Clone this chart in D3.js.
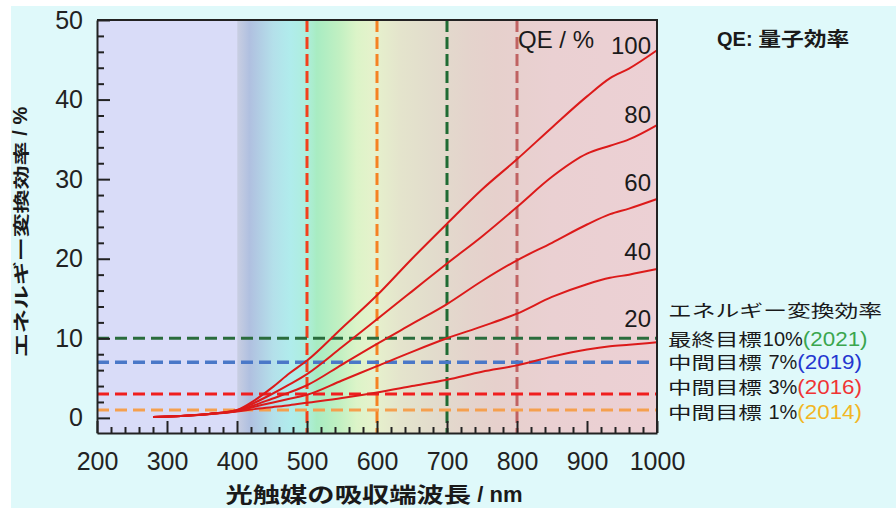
<!DOCTYPE html>
<html lang="ja">
<meta charset="utf-8">
<head>
    <script src='https://d3js.org/d3.v7.min.js'></script>
    <style>
        body { margin: 0; background: #fff; }
        svg { display: block; }
    </style>
</head>
<body>
</body>

<script>
    var width = 896, height = 508;
    var latinFont = '"Liberation Sans", Arial, sans-serif';
    var cjkFont = '"Noto Sans CJK JP", "Noto Sans", sans-serif';

    // data
    var wavelengths = [280, 320, 360, 400, 425, 450, 475, 500, 550, 600, 650, 700, 750, 800, 850, 900, 933, 960, 1000];
    var qe100 = [0.1, 0.25, 0.5, 1.0, 2.2, 3.8, 5.6, 7.2, 11.3, 15.4, 20.0, 24.4, 28.7, 32.5, 36.5, 40.4, 42.7, 43.9, 46.2];
    var qe80  = [0.1, 0.25, 0.5, 0.95, 1.9, 3.0, 4.2, 5.5, 8.9, 12.4, 15.9, 19.4, 22.8, 26.5, 30.3, 33.2, 34.2, 35.0, 36.8];
    var qe60  = [0.1, 0.25, 0.5, 0.9, 1.6, 2.4, 3.2, 4.1, 6.7, 9.3, 11.8, 14.3, 17.2, 19.8, 22.0, 24.3, 25.6, 26.3, 27.5];
    var qe40  = [0.1, 0.25, 0.5, 0.85, 1.4, 1.9, 2.4, 2.9, 4.7, 6.5, 8.3, 10.0, 11.5, 13.1, 15.2, 16.8, 17.6, 18.0, 18.7];
    var qe20  = [0.1, 0.25, 0.45, 0.8, 1.1, 1.35, 1.6, 1.9, 2.5, 3.2, 4.0, 4.8, 5.8, 6.6, 7.7, 8.6, 9.0, 9.2, 9.5];
    var qeSeries = [qe100, qe80, qe60, qe40, qe20];
    var qeLabels = ['100', '80', '60', '40', '20'];
    var qeLabelDy = [4, -2, -8, -9, -15];

    var vLines = [500, 600, 700, 800];
    var vColors = ['#f2401c', '#f58222', '#1f6b33', '#c06262'];
    var targets = [10, 7, 3, 1];
    var targetColors = ['#2a6c3c', '#4a78c8', '#f01e1e', '#f5a04e'];
    var targetNames = ['最終目標', '中間目標', '中間目標', '中間目標'];
    var targetPct = ['10%', ' 7%', ' 3%', ' 1%'];
    var targetYears = ['(2021)', '(2019)', '(2016)', '(2014)'];
    var yearColors = ['#3aa64e', '#2436d0', '#f03434', '#f2b624'];

    var xTicks = [200, 300, 400, 500, 600, 700, 800, 900, 1000];
    var yTicks = [0, 10, 20, 30, 40, 50];

    // spectrum band behind the plot: [nm, colour]
    var bandStops = [[200, '#d9dcf8'], [400, '#d9dcf8'], [401, '#c8cee2'], [418, '#b0c0e0'], [452, '#b4e0ea'],
        [476, '#b0ecec'], [500, '#aeeedc'], [514, '#a8ecc2'], [547, '#c2f0c2'], [571, '#dcf4c8'], [595, '#e6f2cc'],
        [633, '#e4e4cc'], [680, '#e2dccc'], [728, '#e4d4cc'], [770, '#e6d0cc'], [850, '#ead0d2'], [1000, '#ecd0d4']];

    var svg = d3.select('body').append('svg').attr('width', width).attr('height', height);
    svg.append('rect').attr('x', 11).attr('y', 6).attr('width', width - 11).attr('height', height - 6).attr('fill', '#dff9fa');

    var plotL = 97, plotR = 657, plotT = 20, plotB = 433;
    var x = d3.scaleLinear().domain([200, 1000]).range([plotL, plotR]);
    var y = d3.scaleLinear().domain([-1.9, 50]).range([plotB, plotT]);

    // background gradient
    var grad = svg.append('defs').append('linearGradient').attr('id', 'band')
        .attr('gradientUnits', 'userSpaceOnUse').attr('x1', plotL).attr('x2', plotR).attr('y1', 0).attr('y2', 0);
    grad.selectAll('stop').data(bandStops).join('stop')
        .attr('offset', function(d) { return (x(d[0]) - plotL) / (plotR - plotL); })
        .attr('stop-color', function(d) { return d[1]; });
    svg.append('rect').attr('x', plotL).attr('y', plotT).attr('width', plotR - plotL).attr('height', plotB - plotT)
        .attr('fill', 'url(#band)');

    // vertical dashed lines
    svg.selectAll('.vline').data(vLines).join('line').attr('class', 'vline')
        .attr('x1', function(d) { return x(d); }).attr('x2', function(d) { return x(d); })
        .attr('y1', plotT).attr('y2', plotB)
        .attr('stroke', function(d, i) { return vColors[i]; })
        .attr('stroke-width', 3).attr('stroke-dasharray', '12,5');

    // target lines
    svg.selectAll('.hline').data(targets).join('line').attr('class', 'hline')
        .attr('x1', plotL).attr('x2', function(d, i) { return i === 1 ? plotR - 6 : plotR; })
        .attr('y1', function(d) { return y(d); }).attr('y2', function(d) { return y(d); })
        .attr('stroke', function(d, i) { return targetColors[i]; })
        .attr('stroke-width', function(d, i) { return i === 1 ? 3.5 : 3; })
        .attr('stroke-dasharray', '12,6');

    // efficiency curves
    var line = d3.line()
        .x(function(d, i) { return x(wavelengths[i]); })
        .y(function(d) { return y(d); })
        .curve(d3.curveMonotoneX);
    svg.selectAll('.curve').data(qeSeries).join('path').attr('class', 'curve')
        .attr('d', line).attr('fill', 'none').attr('stroke', '#dc1a1a').attr('stroke-width', 2);

    // frame
    svg.append('path').attr('d', 'M' + plotL + ',' + plotT + 'H' + plotR + 'V' + plotB)
        .attr('fill', 'none').attr('stroke', '#222').attr('stroke-width', 2);

    // axes
    var yAxis = svg.append('g').attr('transform', 'translate(' + plotL + ',0)')
        .call(d3.axisLeft(y).tickValues(yTicks).tickSizeInner(-13).tickSizeOuter(0).tickPadding(14));
    svg.append('g').attr('transform', 'translate(' + plotL + ',0)')
        .call(d3.axisLeft(y).tickValues(d3.range(0, 51, 2).filter(function(v) { return v % 10; }))
            .tickSizeInner(-7).tickSizeOuter(0).tickFormat(''))
        .select('.domain').remove();
    var xAxis = svg.append('g').attr('transform', 'translate(0,' + plotB + ')')
        .call(d3.axisBottom(x).tickValues(xTicks).tickFormat(d3.format('d'))
            .tickSizeInner(-12).tickSizeOuter(0).tickPadding(19));
    svg.append('g').attr('transform', 'translate(0,' + plotB + ')')
        .call(d3.axisBottom(x).tickValues(d3.range(220, 1000, 20).filter(function(v) { return v % 100; }))
            .tickSizeInner(-6).tickSizeOuter(0).tickFormat(''))
        .select('.domain').remove();
    svg.selectAll('.tick line').attr('stroke', '#222').attr('stroke-width', 2);
    svg.selectAll('.domain').attr('stroke', '#222').attr('stroke-width', 2);
    [yAxis, xAxis].forEach(function(a) {
        a.selectAll('text').attr('font-size', 25).attr('fill', '#222').style('font-family', latinFont);
    });

    // text made of pieces, some stretched sideways like the original
    function richText(parent, px, py, pieces, anchor) {
        var g = parent.append('g');
        var cx = 0;
        pieces.forEach(function(p) {
            var sx = p.sx || 1;
            var t = g.append('text').text(p.t)
                .attr('font-size', p.size).attr('font-weight', p.weight || 'normal')
                .attr('fill', p.fill || '#1a1a1a')
                .style('font-family', p.cjk ? cjkFont : latinFont)
                .style('white-space', 'pre');
            var w = t.node().getComputedTextLength() * sx;
            t.attr('transform', 'translate(' + cx + ',0) scale(' + sx + ',1)');
            cx += w + (p.gap || 0);
        });
        var shift = anchor === 'middle' ? -cx / 2 : anchor === 'end' ? -cx : 0;
        g.attr('transform', 'translate(' + (px + shift) + ',' + py + ')');
        return g;
    }

    // axis titles
    var yTitle = svg.append('g').attr('transform', 'translate(27,232) rotate(-90)');
    richText(yTitle, 0, 0, [
        {t: 'エネルギー変換効率', size: 16, weight: 700, sx: 1.5, cjk: true},
        {t: ' / %', size: 20, weight: 700}
    ], 'middle');
    richText(svg, 374, 502, [
        {t: '光触媒の吸収端波長', size: 21, weight: 700, sx: 1.3, cjk: true},
        {t: ' / nm', size: 22, weight: 700}
    ], 'middle');

    // curve labels
    richText(svg, 518, 48, [{t: 'QE / %', size: 24}]);
    qeLabels.forEach(function(l, i) {
        var s = qeSeries[i];
        svg.append('text').text(l)
            .attr('x', 651).attr('y', y(s[s.length - 1]) + qeLabelDy[i])
            .attr('text-anchor', 'end').attr('font-size', 24).attr('fill', '#1a1a1a')
            .style('font-family', latinFont);
    });

    // title at top right
    richText(svg, 717, 46, [
        {t: 'QE: ', size: 20, weight: 700},
        {t: '量子効率', size: 19, weight: 700, sx: 1.2, cjk: true}
    ]);

    // target legend
    richText(svg, 668, 317, [{t: 'エネルギー変換効率', size: 17, sx: 1.4, cjk: true}]);
    var legendY = [346, 369, 394, 419];
    targets.forEach(function(t, i) {
        richText(svg, 668, legendY[i], [
            {t: targetNames[i], size: 17, sx: 1.38, cjk: true, gap: 1},
            {t: targetPct[i], size: 20},
            {t: targetYears[i], size: 20, sx: 1.12, fill: yearColors[i]}
        ]);
    });

    console.log('ready..');
</script>
</html>
